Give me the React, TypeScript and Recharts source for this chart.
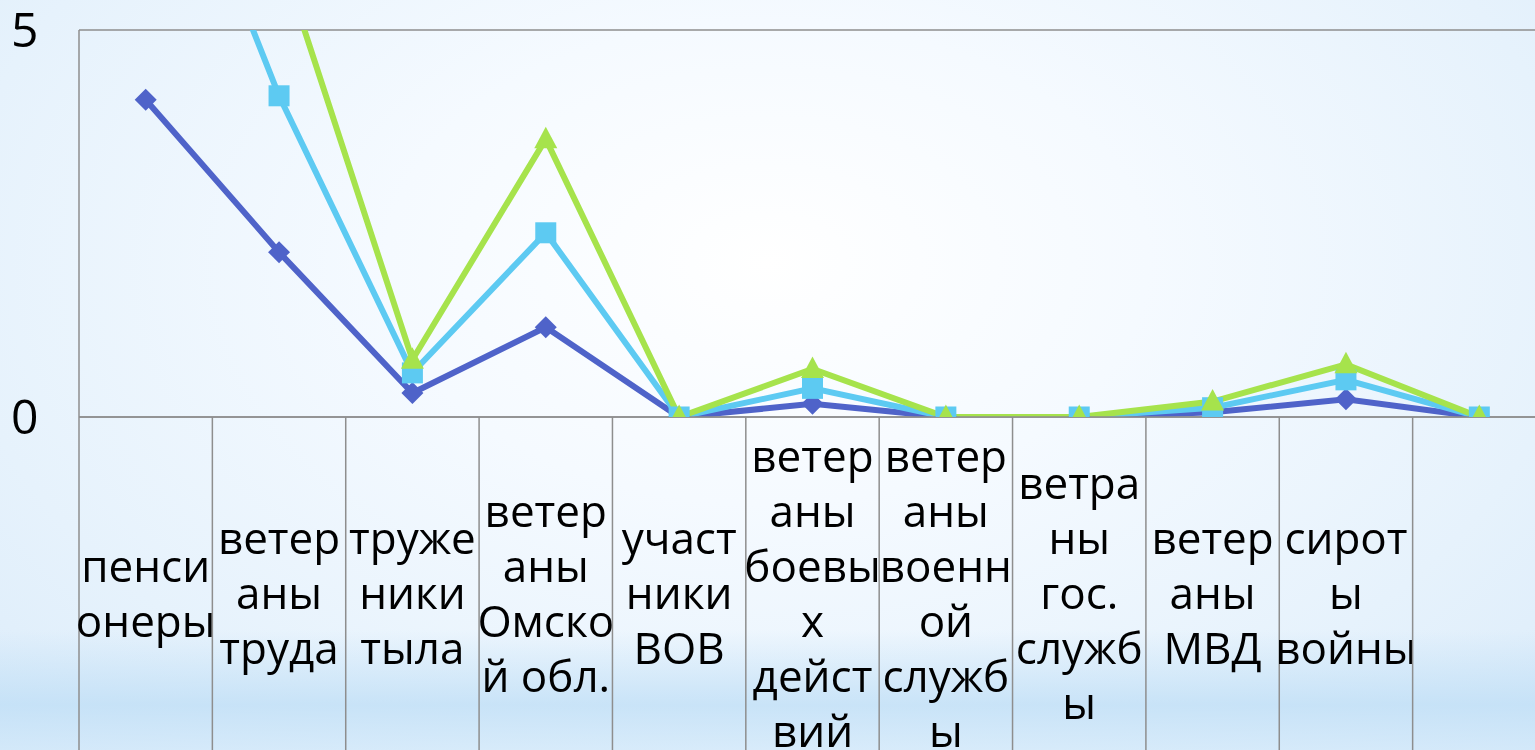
import React from 'react';
import { LineChart, Line, XAxis, YAxis, CartesianGrid } from 'recharts';

// подписи категорий, разбитые по строкам как на слайде
const categoryLines: string[][] = [
  ['пенси', 'онеры'],
  ['ветер', 'аны', 'труда'],
  ['труже', 'ники', 'тыла'],
  ['ветер', 'аны', 'Омско', 'й обл.'],
  ['участ', 'ники', 'ВОВ'],
  ['ветер', 'аны', 'боевы', 'х', 'дейст', 'вий'],
  ['ветер', 'аны', 'военн', 'ой', 'служб', 'ы'],
  ['ветра', 'ны', 'гос.', 'служб', 'ы'],
  ['ветер', 'аны', 'МВД'],
  ['сирот', 'ы', 'войны'],
  [''],
];

const series1 = [4.1, 2.13, 0.31, 1.16, 0, 0.17, 0, 0, 0.06, 0.23, 0];
const series2 = [8.5, 4.15, 0.57, 2.38, 0, 0.37, 0, 0, 0.12, 0.48, 0];
const series3 = [12.5, 6.0, 0.74, 3.59, 0, 0.62, 0, 0, 0.2, 0.68, 0];

const yTicks = [0, 5];

const data = categoryLines.map((lines, i) => ({
  key: 'c' + i,
  s1: series1[i],
  s2: series2[i],
  s3: series3[i],
}));

const CHART_W = 1560;
const CHART_H = 800;
const PLOT_LEFT = 79;
const PLOT_TOP = 30;
const PLOT_RIGHT = 1546;
const X_AXIS_H = 383;
const BAND = (PLOT_RIGHT - PLOT_LEFT) / categoryLines.length;
const PLOT_BOTTOM = CHART_H - X_AXIS_H;
const LABEL_MID = PLOT_BOTTOM + 192;
const LINE_H = 55;
const GRID = '#8e8e8e';
const FONT = '"Open Sans", "DejaVu Sans", sans-serif';

const XTick = (props: any) => {
  const { x, index } = props;
  const lines = categoryLines[index] || [];
  const n = lines.length;
  return (
    <g>
      <line x1={x - BAND / 2} x2={x - BAND / 2} y1={PLOT_BOTTOM} y2={CHART_H} stroke={GRID} strokeWidth={1.5} />
      {index === categoryLines.length - 1 && (
        <line x1={x + BAND / 2} x2={x + BAND / 2} y1={PLOT_BOTTOM} y2={CHART_H} stroke={GRID} strokeWidth={1.5} />
      )}
      <text textAnchor="middle" fontSize={44} fontFamily={FONT} fill="#000">
        {lines.map((t, i) => (
          <tspan key={i} x={x} y={LABEL_MID + (i - (n - 1) / 2) * LINE_H}>
            {t}
          </tspan>
        ))}
      </text>
    </g>
  );
};

const YTick = (props: any) => {
  const { y, payload } = props;
  return (
    <text x={11} y={y} dy={17} textAnchor="start" fontSize={48} fontFamily={FONT} fill="#000">
      {payload.value}
    </text>
  );
};

const Diamond = (props: any) => {
  const { cx, cy } = props;
  if (cx == null || cy == null) return null;
  const r = 11;
  return <path d={`M${cx},${cy - r} L${cx + r},${cy} L${cx},${cy + r} L${cx - r},${cy} Z`} fill="#4f63c9" />;
};

const Square = (props: any) => {
  const { cx, cy } = props;
  if (cx == null || cy == null) return null;
  const r = 10.5;
  return <rect x={cx - r} y={cy - r} width={2 * r} height={2 * r} fill="#5dcaf2" />;
};

const Triangle = (props: any) => {
  const { cx, cy } = props;
  if (cx == null || cy == null) return null;
  const r = 11.5;
  return <path d={`M${cx},${cy - r - 1} L${cx + r},${cy + 9} L${cx - r},${cy + 9} Z`} fill="#a6e34c" />;
};

export default function App() {
  return (
    <div
      style={{
        position: 'fixed',
        left: 0,
        top: 0,
        width: 1535,
        height: 750,
        overflow: 'hidden',
        background:
          'linear-gradient(to bottom, rgba(255,255,255,0) 0%, rgba(255,255,255,0) 84%, rgba(190,222,246,0.75) 94%, rgba(205,230,249,0.6) 100%), radial-gradient(ellipse at 50% 35%, #ffffff 0%, #f5faff 35%, #e6f2fc 75%, #dcecfa 100%)',
      }}
    >
      <LineChart
        width={CHART_W}
        height={CHART_H}
        data={data}
        margin={{ top: PLOT_TOP, right: CHART_W - PLOT_RIGHT, left: 0, bottom: 0 }}
      >
        <CartesianGrid vertical={false} stroke={GRID} strokeWidth={1.5} />
        <XAxis
          dataKey="key"
          interval={0}
          height={X_AXIS_H}
          padding={{ left: BAND / 2, right: BAND / 2 }}
          axisLine={{ stroke: GRID, strokeWidth: 1.5 }}
          tickLine={false}
          tick={<XTick />}
        />
        <YAxis
          width={PLOT_LEFT}
          domain={[0, 5]}
          ticks={yTicks}
          allowDataOverflow
          axisLine={{ stroke: GRID, strokeWidth: 1.5 }}
          tickLine={false}
          tick={<YTick />}
        />
        <Line type="linear" dataKey="s1" stroke="#4f63c9" strokeWidth={6} dot={<Diamond />} isAnimationActive={false} />
        <Line type="linear" dataKey="s2" stroke="#5dcaf2" strokeWidth={6} dot={<Square />} isAnimationActive={false} />
        <Line type="linear" dataKey="s3" stroke="#a6e34c" strokeWidth={6} dot={<Triangle />} isAnimationActive={false} />
      </LineChart>
    </div>
  );
}
